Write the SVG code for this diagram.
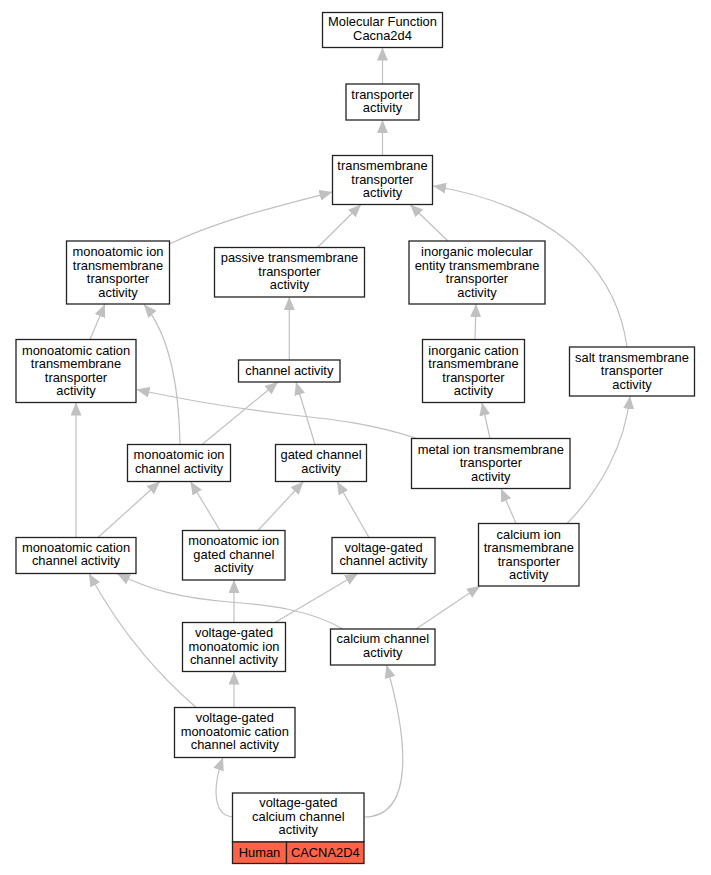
<svg xmlns="http://www.w3.org/2000/svg" width="711" height="875" viewBox="0 0 711 875">
<style>
.box{fill:#fff;stroke:#222;stroke-width:1.3}
.t{font-family:"Liberation Sans",Arial,sans-serif;font-size:12.9px;fill:#000;text-anchor:middle}
.e{fill:none;stroke:#c0c0c0;stroke-width:1.2;marker-end:url(#arr)}
.org{fill:#ff6347;stroke:#222;stroke-width:1.3}
</style>
<defs>
<marker id="arr" viewBox="0 0 13 11" refX="13" refY="5.5" markerWidth="13" markerHeight="11" markerUnits="userSpaceOnUse" orient="auto">
<path d="M0,0 L13,5.5 L0,11 z" fill="#c0c0c0"/>
</marker>
</defs>
<rect width="711" height="875" fill="#fff"/>
<g id="edges">
<path class="e" d="M382.5,84 L382.5,47.5"/>
<path class="e" d="M382.5,155.5 L382.5,120"/>
<path class="e" d="M169.5,244 C215,222 270,208 332.5,192"/>
<path class="e" d="M317.5,247.5 L361,204.5"/>
<path class="e" d="M448,241 L410,204.5"/>
<path class="e" d="M627,347 C615,260 545,205 433,186"/>
<path class="e" d="M90,339.5 L105,304"/>
<path class="e" d="M180,444.5 C179,390 170,335 144,304.5"/>
<path class="e" d="M289.3,360 L289.3,297"/>
<path class="e" d="M202,444.5 L278,382"/>
<path class="e" d="M315,444.5 L296,382"/>
<path class="e" d="M417,438.5 C370,423 330,419 292,415 C240,409 190,401 136.5,389.5"/>
<path class="e" d="M475,339.5 L476,304"/>
<path class="e" d="M490,438.5 L482,402.5"/>
<path class="e" d="M567,523.5 C600,490 625,445 630,396"/>
<path class="e" d="M76,537.5 L76,402.5"/>
<path class="e" d="M98,537.5 L160,481.5"/>
<path class="e" d="M220,530.5 L190.5,481.5"/>
<path class="e" d="M258,530.5 L303.5,481.5"/>
<path class="e" d="M369,537.5 L337,481.5"/>
<path class="e" d="M516,523.5 L501,488.5"/>
<path class="e" d="M234,622.5 L234,580"/>
<path class="e" d="M275,622.5 L358,573.5"/>
<path class="e" d="M343,629 C310,610 270,605 230,602 C180,598 150,590 117,573.5"/>
<path class="e" d="M196,707.5 C165,680 125,640 89,573.5"/>
<path class="e" d="M416,629 L480,586"/>
<path class="e" d="M234,707.5 L234,671.5"/>
<path class="e" d="M232.5,817 C212,815 213,785 223,757.5"/>
<path class="e" d="M364,817 C415,817 408,740 386.5,665"/>
</g>
<g id="n1"><rect class="box" x="322.5" y="12.5" width="120" height="35"/>
<text class="t" x="382.5" y="26.3">Molecular Function</text><text class="t" x="382.5" y="39.8">Cacna2d4</text></g>
<g id="n2"><rect class="box" x="346" y="84" width="73" height="36"/>
<text class="t" x="382.5" y="98.8">transporter</text><text class="t" x="382.5" y="112.3">activity</text></g>
<g id="n3"><rect class="box" x="332.5" y="155.5" width="100" height="49"/>
<text class="t" x="382.5" y="170">transmembrane</text><text class="t" x="382.5" y="183.5">transporter</text><text class="t" x="382.5" y="197">activity</text></g>
<g id="n4"><rect class="box" x="66.5" y="241" width="103" height="63"/>
<text class="t" x="118" y="256">monoatomic ion</text><text class="t" x="118" y="269.5">transmembrane</text><text class="t" x="118" y="283">transporter</text><text class="t" x="118" y="296.5">activity</text></g>
<g id="n5"><rect class="box" x="214.5" y="247.5" width="150" height="49.5"/>
<text class="t" x="289.5" y="262">passive transmembrane</text><text class="t" x="289.5" y="275.5">transporter</text><text class="t" x="289.5" y="289">activity</text></g>
<g id="n6"><rect class="box" x="409" y="241" width="136" height="63"/>
<text class="t" x="477" y="256">inorganic molecular</text><text class="t" x="477" y="269.5">entity transmembrane</text><text class="t" x="477" y="283">transporter</text><text class="t" x="477" y="296.5">activity</text></g>
<g id="n7"><rect class="box" x="16" y="339.5" width="120" height="63"/>
<text class="t" x="76" y="354.5">monoatomic cation</text><text class="t" x="76" y="368">transmembrane</text><text class="t" x="76" y="381.5">transporter</text><text class="t" x="76" y="395">activity</text></g>
<g id="n8"><rect class="box" x="238.5" y="360" width="101.5" height="22"/>
<text class="t" x="289.3" y="375.3">channel activity</text></g>
<g id="n9"><rect class="box" x="422.5" y="339.5" width="102" height="63"/>
<text class="t" x="473.5" y="354.5">inorganic cation</text><text class="t" x="473.5" y="368">transmembrane</text><text class="t" x="473.5" y="381.5">transporter</text><text class="t" x="473.5" y="395">activity</text></g>
<g id="n10"><rect class="box" x="569.5" y="347" width="125" height="49"/>
<text class="t" x="632" y="361.5">salt transmembrane</text><text class="t" x="632" y="375">transporter</text><text class="t" x="632" y="388.5">activity</text></g>
<g id="n11"><rect class="box" x="127.5" y="444.5" width="103" height="37"/>
<text class="t" x="179" y="459">monoatomic ion</text><text class="t" x="179" y="473">channel activity</text></g>
<g id="n12"><rect class="box" x="275.5" y="444.5" width="91" height="37"/>
<text class="t" x="321" y="459">gated channel</text><text class="t" x="321" y="473">activity</text></g>
<g id="n13"><rect class="box" x="411.5" y="438.5" width="158.5" height="50"/>
<text class="t" x="490.8" y="453.5">metal ion transmembrane</text><text class="t" x="490.8" y="467">transporter</text><text class="t" x="490.8" y="480.5">activity</text></g>
<g id="n14"><rect class="box" x="16" y="537.5" width="120" height="36"/>
<text class="t" x="76" y="551.5">monoatomic cation</text><text class="t" x="76" y="565">channel activity</text></g>
<g id="n15"><rect class="box" x="182.5" y="530.5" width="102.5" height="49.5"/>
<text class="t" x="233.8" y="545">monoatomic ion</text><text class="t" x="233.8" y="558.5">gated channel</text><text class="t" x="233.8" y="572">activity</text></g>
<g id="n16"><rect class="box" x="332" y="537.5" width="103" height="36"/>
<text class="t" x="383.5" y="551.5">voltage-gated</text><text class="t" x="383.5" y="565">channel activity</text></g>
<g id="n17"><rect class="box" x="478.5" y="523.5" width="100.5" height="62.5"/>
<text class="t" x="528.8" y="538.5">calcium ion</text><text class="t" x="528.8" y="552">transmembrane</text><text class="t" x="528.8" y="565.5">transporter</text><text class="t" x="528.8" y="579">activity</text></g>
<g id="n18"><rect class="box" x="182.5" y="622.5" width="103" height="49"/>
<text class="t" x="234" y="637">voltage-gated</text><text class="t" x="234" y="650.5">monoatomic ion</text><text class="t" x="234" y="664">channel activity</text></g>
<g id="n19"><rect class="box" x="330.5" y="629" width="104.5" height="36"/>
<text class="t" x="382.8" y="643">calcium channel</text><text class="t" x="382.8" y="657">activity</text></g>
<g id="n20"><rect class="box" x="174.5" y="707.5" width="120.5" height="50"/>
<text class="t" x="234.8" y="722">voltage-gated</text><text class="t" x="234.8" y="735.5">monoatomic cation</text><text class="t" x="234.8" y="749">channel activity</text></g>
<g id="n21"><rect class="box" x="232.5" y="793" width="131.5" height="49"/>
<text class="t" x="298.3" y="807">voltage-gated</text><text class="t" x="298.3" y="820.5">calcium channel</text><text class="t" x="298.3" y="834">activity</text>
<rect class="org" x="232.5" y="842" width="54" height="21.5"/><rect class="org" x="286.5" y="842" width="77.5" height="21.5"/>
<text class="t" x="259.5" y="857">Human</text><text class="t" x="325.3" y="857">CACNA2D4</text></g>
</svg>
